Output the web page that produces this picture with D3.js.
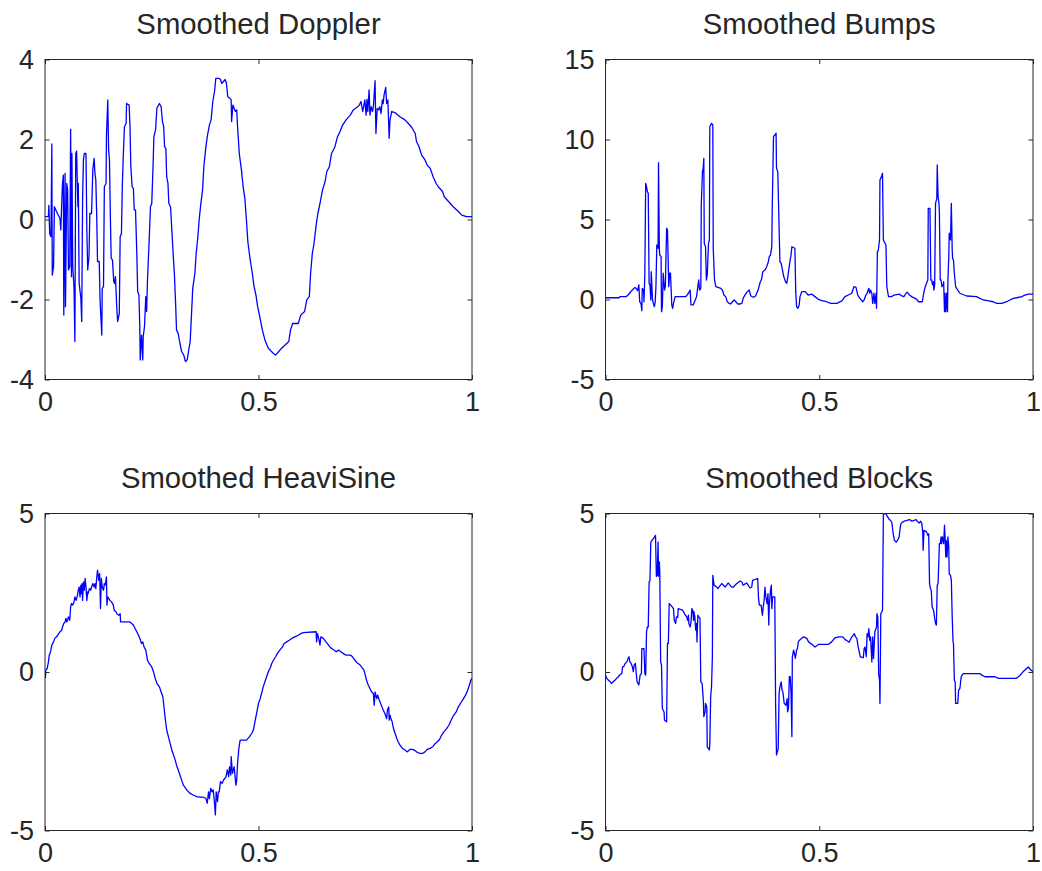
<!DOCTYPE html>
<html>
<head>
<meta charset="utf-8">
<script src="https://cdn.jsdelivr.net/npm/d3@7"></script>
<style>
  html, body { margin: 0; padding: 0; background: #ffffff; }
  svg { display: block; }
  text { font-family: "Liberation Sans", Arial, Helvetica, sans-serif; fill: #262626; }
</style>
</head>
<body>
<svg id="chart" width="1042" height="871"></svg>
<script>
// Four smoothed test signals on [0, 1]; each series is a list of [x, y] vertices.
const titles = ["Smoothed Doppler", "Smoothed Bumps", "Smoothed HeaviSine", "Smoothed Blocks"];
const xTicks = [0, 0.5, 1];
const xTickLabels = ["0", "0.5", "1"];

const dopplerTicks = [-4, -2, 0, 2, 4];
const bumpsTicks = [-5, 0, 5, 10, 15];
const heavisineTicks = [-5, 0, 5];
const blocksTicks = [-5, 0, 5];

const doppler = [
  [0,0.07],[0.008,0.07],[0.009,0.35],[0.011,-0.35],[0.014,-0.43],[0.016,1.89],[0.017,-1.39],[0.020,-1.18],[0.022,0.32],[0.029,0.15],
  [0.035,0.03],[0.037,-0.26],[0.040,0.65],[0.041,0.90],[0.043,1.11],[0.044,-2.39],[0.047,1.15],[0.048,-2.18],[0.051,0.90],[0.053,0.74],
  [0.055,-1.26],[0.058,-1.18],[0.060,2.25],[0.062,-1.43],[0.063,1.65],[0.065,-1.18],[0.068,-1.72],[0.070,-3.05],[0.072,1.65],[0.074,1.71],
  [0.077,0.32],[0.078,0.90],[0.080,-1.60],[0.084,-1.97],[0.086,-2.55],[0.088,0.49],[0.090,1.49],[0.092,1.65],[0.096,1.65],[0.098,-0.26],
  [0.100,-1.26],[0.103,-0.93],[0.105,0.15],[0.109,0.15],[0.112,1.24],[0.115,1.53],[0.117,1.15],[0.119,0.99],[0.121,0.15],[0.123,-1.05],
  [0.127,-1.05],[0.129,-2.01],[0.130,-2.26],[0.133,-2.89],[0.134,-1.72],[0.137,-1.68],[0.139,0.82],[0.143,0.90],[0.144,2.11],[0.147,2.99],
  [0.149,1.74],[0.151,1.49],[0.153,0.11],[0.155,-0.97],[0.158,-1.01],[0.161,-1.55],[0.163,-1.60],[0.165,-1.43],[0.168,-2.18],[0.170,-2.55],
  [0.174,-2.35],[0.176,-0.43],[0.179,-0.35],[0.181,0.82],[0.183,1.49],[0.186,2.32],[0.190,2.40],[0.191,2.90],[0.197,2.86],[0.199,2.36],
  [0.201,1.32],[0.204,0.82],[0.207,0.78],[0.209,0.24],[0.212,0.24],[0.215,-0.85],[0.217,-1.80],[0.220,-1.89],[0.222,-2.68],[0.223,-3.51],
  [0.226,-2.89],[0.229,-3.51],[0.230,-2.93],[0.233,-2.68],[0.236,-1.93],[0.238,-2.30],[0.240,-1.51],[0.244,-0.51],[0.247,0.32],[0.250,0.40],
  [0.253,1.32],[0.255,2.07],[0.259,2.24],[0.262,2.78],[0.268,2.90],[0.272,2.82],[0.275,2.45],[0.278,2.32],[0.280,1.82],[0.283,1.78],
  [0.285,1.07],[0.288,0.90],[0.290,0.40],[0.294,0.32],[0.297,-0.26],[0.301,-1.01],[0.303,-1.35],[0.306,-2.14],[0.308,-2.76],[0.312,-2.85],
  [0.316,-3.10],[0.320,-3.30],[0.325,-3.39],[0.329,-3.55],[0.333,-3.51],[0.336,-3.30],[0.340,-3.05],[0.343,-2.39],[0.346,-1.72],[0.351,-1.35],
  [0.354,-0.85],[0.358,-0.43],[0.361,-0.01],[0.365,0.40],[0.369,0.74],[0.372,1.32],[0.376,1.74],[0.380,2.07],[0.385,2.36],[0.389,2.49],
  [0.393,2.95],[0.397,3.20],[0.400,3.53],[0.407,3.53],[0.411,3.50],[0.414,3.40],[0.418,3.45],[0.422,3.50],[0.425,3.40],[0.428,3.07],
  [0.433,3.03],[0.436,2.99],[0.437,2.45],[0.440,2.86],[0.446,2.70],[0.449,2.74],[0.451,2.32],[0.455,1.65],[0.460,1.24],[0.464,0.82],
  [0.468,0.53],[0.472,-0.05],[0.475,-0.55],[0.480,-0.97],[0.485,-1.30],[0.489,-1.64],[0.494,-1.89],[0.498,-2.18],[0.503,-2.43],[0.509,-2.76],
  [0.515,-3.01],[0.523,-3.22],[0.535,-3.35],[0.540,-3.39],[0.554,-3.22],[0.571,-3.05],[0.575,-2.76],[0.580,-2.60],[0.593,-2.60],[0.599,-2.39],
  [0.608,-2.30],[0.613,-2.01],[0.619,-1.93],[0.622,-1.35],[0.626,-0.85],[0.630,-0.60],[0.635,-0.14],[0.639,0.15],[0.644,0.40],[0.650,0.74],
  [0.656,0.95],[0.660,1.20],[0.666,1.32],[0.671,1.65],[0.679,1.82],[0.685,2.07],[0.691,2.20],[0.697,2.36],[0.705,2.49],[0.715,2.61],
  [0.722,2.74],[0.732,2.82],[0.736,2.86],[0.740,2.95],[0.744,2.70],[0.749,2.99],[0.752,2.61],[0.754,3.00],[0.756,2.70],[0.759,3.24],
  [0.761,2.61],[0.764,2.82],[0.767,2.70],[0.769,2.82],[0.773,3.47],[0.775,2.15],[0.778,2.78],[0.781,2.74],[0.784,2.82],[0.787,2.65],
  [0.790,2.99],[0.792,2.90],[0.794,3.11],[0.798,3.30],[0.800,2.90],[0.803,2.99],[0.806,2.03],[0.808,2.49],[0.812,2.70],[0.820,2.67],
  [0.831,2.57],[0.843,2.49],[0.851,2.40],[0.859,2.30],[0.867,2.15],[0.870,1.95],[0.876,1.82],[0.882,1.61],[0.890,1.49],[0.895,1.36],
  [0.902,1.28],[0.909,1.07],[0.916,0.90],[0.921,0.82],[0.931,0.70],[0.935,0.57],[0.945,0.45],[0.956,0.32],[0.968,0.20],[0.976,0.11],
  [0.987,0.07],[1.000,0.07]
];

const bumps = [
  [0,0.11],[0.032,0.11],[0.034,0.18],[0.048,0.18],[0.053,0.28],[0.061,0.55],[0.069,0.76],[0.073,0.64],[0.075,0.55],[0.078,0.91],
  [0.080,-0.14],[0.083,-0.24],[0.085,-0.70],[0.086,0.70],[0.089,0.59],[0.090,-0.14],[0.092,1.53],[0.094,7.26],[0.096,7.05],[0.098,6.74],
  [0.100,6.64],[0.102,1.01],[0.104,0.91],[0.106,-0.03],[0.107,1.74],[0.110,-0.03],[0.112,-0.24],[0.114,-0.45],[0.116,-0.24],[0.118,0.80],
  [0.120,3.41],[0.123,3.20],[0.124,8.55],[0.126,3.09],[0.127,2.78],[0.130,2.68],[0.131,-0.76],[0.133,-0.45],[0.135,1.64],[0.138,0.59],
  [0.140,0.80],[0.143,4.45],[0.145,4.34],[0.148,0.80],[0.150,1.64],[0.152,1.64],[0.155,-0.34],[0.157,-0.55],[0.159,-0.24],[0.163,0.18],
  [0.188,0.18],[0.194,0.39],[0.198,0.59],[0.200,-0.34],[0.205,-0.34],[0.210,-0.03],[0.213,0.18],[0.216,0.80],[0.218,1.22],[0.220,0.59],
  [0.223,0.70],[0.224,5.91],[0.227,8.09],[0.228,7.99],[0.230,8.82],[0.231,3.51],[0.234,3.30],[0.236,1.22],[0.238,1.53],[0.241,3.51],
  [0.243,3.72],[0.244,10.80],[0.248,11.01],[0.251,10.91],[0.252,3.20],[0.255,1.22],[0.258,0.80],[0.270,0.70],[0.274,0.55],[0.277,0.28],
  [0.281,0.18],[0.285,-0.14],[0.289,-0.24],[0.293,-0.28],[0.297,-0.14],[0.301,-0.03],[0.305,-0.14],[0.309,-0.28],[0.315,-0.28],[0.319,-0.24],
  [0.322,0.07],[0.326,0.28],[0.330,0.43],[0.336,0.59],[0.340,0.22],[0.346,0.14],[0.351,0.22],[0.357,0.59],[0.361,1.01],[0.365,1.26],
  [0.368,1.74],[0.373,1.84],[0.377,2.05],[0.381,2.36],[0.383,2.68],[0.386,2.78],[0.389,3.30],[0.390,5.70],[0.393,10.18],[0.396,10.28],
  [0.399,10.39],[0.400,8.20],[0.403,7.99],[0.404,6.84],[0.406,4.55],[0.408,2.36],[0.411,2.26],[0.414,1.84],[0.417,1.43],[0.421,1.11],
  [0.424,1.01],[0.426,1.32],[0.428,1.74],[0.432,2.47],[0.434,2.78],[0.436,3.30],[0.443,3.20],[0.445,0.49],[0.447,-0.45],[0.450,-0.55],
  [0.453,-0.34],[0.455,0.18],[0.459,0.49],[0.467,0.49],[0.474,0.28],[0.482,0.34],[0.490,0.18],[0.498,0.01],[0.506,-0.07],[0.517,-0.14],
  [0.527,-0.24],[0.541,-0.24],[0.553,-0.09],[0.560,0.18],[0.568,0.28],[0.576,0.39],[0.581,0.80],[0.586,0.76],[0.590,0.28],[0.595,0.07],
  [0.602,-0.14],[0.605,-0.03],[0.609,0.28],[0.612,0.39],[0.616,0.70],[0.618,0.39],[0.620,0.59],[0.623,0.39],[0.625,-0.24],[0.628,0.39],
  [0.630,-0.24],[0.633,0.39],[0.634,-0.55],[0.636,2.99],[0.638,3.05],[0.641,3.72],[0.642,7.47],[0.646,7.72],[0.648,7.89],[0.650,3.72],
  [0.656,3.41],[0.658,0.80],[0.662,0.18],[0.669,0.18],[0.675,0.28],[0.687,0.34],[0.693,0.22],[0.698,0.18],[0.703,0.39],[0.706,0.45],
  [0.711,0.28],[0.716,0.18],[0.724,0.07],[0.728,0.01],[0.732,-0.14],[0.741,-0.14],[0.745,0.49],[0.748,0.80],[0.751,1.01],[0.754,1.22],
  [0.755,5.70],[0.759,5.70],[0.761,1.22],[0.763,1.22],[0.765,0.91],[0.767,1.11],[0.768,0.59],[0.770,0.91],[0.772,6.01],[0.775,6.32],
  [0.776,8.41],[0.778,6.43],[0.780,6.01],[0.781,5.49],[0.783,1.22],[0.785,1.22],[0.787,0.80],[0.790,0.91],[0.791,1.11],[0.793,-0.76],
  [0.794,0.39],[0.796,-0.76],[0.798,0.39],[0.800,-0.76],[0.801,1.22],[0.803,2.68],[0.804,4.14],[0.807,3.72],[0.809,6.01],[0.811,3.09],
  [0.812,2.57],[0.814,2.47],[0.816,1.64],[0.819,0.80],[0.824,0.59],[0.829,0.39],[0.845,0.22],[0.868,0.18],[0.876,0.07],[0.884,-0.03],
  [0.896,-0.09],[0.907,-0.14],[0.915,-0.24],[0.927,-0.24],[0.938,-0.14],[0.946,-0.03],[0.954,0.07],[0.962,0.11],[0.974,0.18],[0.981,0.28],
  [0.989,0.34],[1.000,0.34]
];

const heavisine = [
  [0.001,-0.20],[0.002,0.06],[0.005,0.11],[0.008,0.32],[0.010,0.53],[0.013,0.64],[0.016,0.85],[0.020,0.95],[0.023,1.06],[0.027,1.11],
  [0.031,1.19],[0.035,1.27],[0.039,1.32],[0.041,1.42],[0.044,1.53],[0.047,1.58],[0.049,1.69],[0.051,1.58],[0.053,1.65],[0.055,1.74],
  [0.058,1.63],[0.060,2.05],[0.062,2.16],[0.065,2.11],[0.068,2.21],[0.070,2.37],[0.073,2.26],[0.076,2.42],[0.078,2.58],[0.080,2.68],
  [0.082,2.37],[0.084,2.74],[0.085,2.47],[0.087,2.79],[0.088,2.26],[0.090,2.84],[0.092,2.58],[0.094,2.95],[0.096,2.68],[0.098,2.26],
  [0.100,2.53],[0.101,2.47],[0.104,2.63],[0.107,2.58],[0.109,2.68],[0.112,2.79],[0.115,2.68],[0.117,2.79],[0.119,2.63],[0.121,2.95],
  [0.123,3.21],[0.126,2.89],[0.128,3.10],[0.130,2.00],[0.132,2.95],[0.134,2.68],[0.137,2.58],[0.139,2.79],[0.141,2.74],[0.144,3.00],
  [0.145,2.11],[0.147,2.37],[0.149,2.32],[0.152,2.26],[0.156,2.21],[0.160,2.11],[0.162,1.95],[0.166,1.90],[0.169,1.82],[0.173,1.79],
  [0.176,1.84],[0.177,1.58],[0.199,1.58],[0.203,1.53],[0.207,1.48],[0.211,1.37],[0.215,1.27],[0.219,1.16],[0.222,1.06],[0.226,0.90],
  [0.229,0.95],[0.232,0.79],[0.236,0.69],[0.238,0.53],[0.240,0.37],[0.244,0.27],[0.250,0.16],[0.254,0.01],[0.258,-0.20],[0.262,-0.36],
  [0.268,-0.47],[0.272,-0.63],[0.276,-0.78],[0.279,-1.15],[0.282,-1.52],[0.285,-1.83],[0.289,-2.04],[0.293,-2.25],[0.297,-2.46],[0.301,-2.62],
  [0.305,-2.78],[0.308,-2.94],[0.312,-3.09],[0.316,-3.25],[0.320,-3.41],[0.324,-3.57],[0.328,-3.64],[0.332,-3.72],[0.336,-3.78],[0.340,-3.83],
  [0.347,-3.88],[0.355,-3.93],[0.363,-3.95],[0.371,-3.95],[0.377,-3.99],[0.380,-4.14],[0.383,-3.78],[0.385,-3.99],[0.388,-3.67],[0.391,-3.78],
  [0.394,-3.72],[0.397,-4.14],[0.399,-4.51],[0.401,-3.78],[0.404,-4.09],[0.406,-3.78],[0.408,-3.78],[0.411,-3.46],[0.415,-3.51],[0.418,-3.41],
  [0.421,-3.36],[0.424,-3.30],[0.427,-3.09],[0.430,-3.30],[0.432,-2.99],[0.435,-3.25],[0.436,-2.67],[0.439,-3.20],[0.441,-3.09],[0.443,-2.99],
  [0.447,-3.57],[0.449,-3.41],[0.451,-2.88],[0.454,-2.41],[0.457,-2.15],[0.472,-2.15],[0.479,-2.04],[0.484,-1.94],[0.488,-1.83],[0.491,-1.62],
  [0.494,-1.41],[0.497,-1.20],[0.500,-0.99],[0.504,-0.84],[0.508,-0.63],[0.511,-0.47],[0.515,-0.31],[0.519,-0.15],[0.523,0.01],[0.527,0.11],
  [0.531,0.27],[0.535,0.37],[0.540,0.48],[0.544,0.58],[0.550,0.69],[0.556,0.79],[0.560,0.90],[0.566,0.95],[0.572,1.00],[0.578,1.06],
  [0.585,1.11],[0.593,1.16],[0.599,1.21],[0.605,1.24],[0.635,1.27],[0.636,0.95],[0.638,1.21],[0.641,1.06],[0.644,0.85],[0.646,1.11],
  [0.652,1.06],[0.658,0.95],[0.664,0.85],[0.669,0.76],[0.675,0.71],[0.682,0.64],[0.687,0.69],[0.693,0.64],[0.699,0.58],[0.705,0.53],
  [0.716,0.53],[0.720,0.48],[0.726,0.37],[0.731,0.29],[0.738,0.22],[0.743,0.13],[0.747,0.06],[0.750,-0.10],[0.753,-0.26],[0.757,-0.41],
  [0.761,-0.52],[0.765,-0.63],[0.769,-0.68],[0.771,-1.05],[0.773,-0.63],[0.777,-0.84],[0.779,-0.73],[0.783,-0.89],[0.786,-0.99],[0.789,-1.10],
  [0.792,-1.20],[0.796,-1.31],[0.800,-1.47],[0.802,-1.20],[0.805,-1.10],[0.806,-1.52],[0.808,-1.36],[0.810,-1.47],[0.813,-1.57],[0.816,-1.78],
  [0.820,-1.94],[0.824,-2.10],[0.827,-2.20],[0.831,-2.30],[0.837,-2.41],[0.843,-2.46],[0.848,-2.52],[0.855,-2.44],[0.861,-2.44],[0.867,-2.48],
  [0.870,-2.52],[0.878,-2.57],[0.884,-2.57],[0.890,-2.52],[0.895,-2.44],[0.902,-2.41],[0.908,-2.36],[0.913,-2.27],[0.919,-2.20],[0.924,-2.13],
  [0.929,-1.99],[0.934,-1.89],[0.941,-1.78],[0.946,-1.68],[0.951,-1.52],[0.956,-1.39],[0.963,-1.26],[0.968,-1.10],[0.974,-0.97],[0.980,-0.84],
  [0.985,-0.73],[0.990,-0.57],[0.994,-0.41],[0.997,-0.26],[1.000,-0.20]
];

const blocks = [
  [0,-0.10],[0.003,-0.20],[0.007,-0.26],[0.011,-0.31],[0.014,-0.36],[0.018,-0.31],[0.022,-0.26],[0.026,-0.20],[0.030,-0.15],[0.034,-0.08],
  [0.038,-0.05],[0.040,0.16],[0.043,0.18],[0.046,0.27],[0.050,0.32],[0.053,0.43],[0.055,0.48],[0.057,0.32],[0.060,0.27],[0.063,0.16],
  [0.065,0.01],[0.067,0.22],[0.070,0.27],[0.072,-0.05],[0.074,-0.31],[0.078,-0.41],[0.081,-0.10],[0.084,-0.05],[0.085,0.74],[0.090,0.74],
  [0.092,-0.05],[0.094,-0.10],[0.096,1.27],[0.098,1.42],[0.100,1.42],[0.102,2.84],[0.104,2.89],[0.106,4.10],[0.112,4.21],[0.117,4.31],
  [0.119,3.02],[0.121,3.05],[0.123,4.10],[0.124,3.02],[0.126,3.47],[0.127,3.16],[0.129,0.32],[0.131,0.22],[0.133,-1.15],[0.137,-1.26],
  [0.138,-1.52],[0.143,-1.57],[0.145,0.90],[0.147,0.90],[0.149,2.16],[0.155,2.07],[0.159,2.00],[0.161,1.63],[0.164,1.53],[0.166,1.74],
  [0.169,1.72],[0.170,2.00],[0.180,1.95],[0.187,1.79],[0.190,1.74],[0.192,1.63],[0.194,1.79],[0.195,1.53],[0.198,1.42],[0.200,1.58],
  [0.202,2.00],[0.204,1.95],[0.206,1.63],[0.207,1.90],[0.209,1.74],[0.211,1.32],[0.213,1.53],[0.214,0.95],[0.216,1.79],[0.221,1.69],
  [0.223,-0.31],[0.226,-0.36],[0.229,-0.94],[0.230,-1.41],[0.233,-1.26],[0.234,-0.99],[0.237,-1.10],[0.238,-2.36],[0.243,-2.46],[0.244,-2.25],
  [0.246,-0.78],[0.248,-0.47],[0.250,0.48],[0.251,3.05],[0.254,2.74],[0.260,2.68],[0.263,2.63],[0.269,2.74],[0.272,2.79],[0.280,2.68],
  [0.287,2.81],[0.295,2.68],[0.299,2.68],[0.307,2.79],[0.315,2.87],[0.319,2.84],[0.322,2.74],[0.330,2.81],[0.338,2.65],[0.342,2.68],
  [0.344,2.89],[0.356,2.95],[0.358,2.32],[0.360,2.11],[0.364,2.11],[0.367,1.79],[0.369,2.05],[0.371,2.26],[0.373,2.68],[0.375,2.37],
  [0.378,2.16],[0.380,2.47],[0.382,1.48],[0.383,2.11],[0.386,2.58],[0.388,2.74],[0.389,2.00],[0.391,2.37],[0.396,2.37],[0.398,-1.10],
  [0.400,-2.62],[0.404,-2.41],[0.406,-0.68],[0.408,-0.47],[0.411,-0.31],[0.413,-0.57],[0.415,-0.63],[0.418,-0.99],[0.422,-1.05],[0.425,-0.84],
  [0.426,-1.26],[0.428,-1.15],[0.430,-0.15],[0.432,-0.15],[0.434,-0.63],[0.436,-2.04],[0.437,0.48],[0.440,0.69],[0.442,0.58],[0.444,0.43],
  [0.447,0.69],[0.449,0.74],[0.451,0.95],[0.455,1.02],[0.463,1.11],[0.471,1.06],[0.475,0.95],[0.482,0.88],[0.490,0.79],[0.498,0.87],
  [0.521,0.87],[0.529,0.95],[0.537,1.08],[0.545,1.11],[0.555,1.11],[0.560,1.03],[0.566,0.98],[0.570,0.94],[0.574,1.06],[0.578,1.13],
  [0.582,1.21],[0.585,1.11],[0.588,1.06],[0.591,0.79],[0.593,0.67],[0.596,0.48],[0.603,0.45],[0.605,0.74],[0.607,0.79],[0.610,0.48],
  [0.612,1.21],[0.614,1.11],[0.616,1.37],[0.618,1.00],[0.620,1.11],[0.623,0.32],[0.625,1.11],[0.627,0.43],[0.630,1.27],[0.634,1.42],
  [0.635,1.84],[0.637,1.74],[0.639,-0.05],[0.641,-0.26],[0.642,-0.99],[0.644,1.84],[0.648,1.95],[0.650,4.99],[0.656,4.99],[0.660,4.89],
  [0.664,4.81],[0.667,4.78],[0.670,4.70],[0.673,4.36],[0.676,4.15],[0.680,4.10],[0.683,4.15],[0.687,4.26],[0.689,4.52],[0.691,4.68],
  [0.695,4.73],[0.699,4.76],[0.705,4.78],[0.711,4.81],[0.717,4.76],[0.722,4.78],[0.726,4.81],[0.731,4.73],[0.734,4.70],[0.737,4.76],
  [0.740,4.68],[0.742,4.42],[0.743,3.84],[0.745,4.47],[0.751,4.42],[0.754,4.31],[0.756,4.36],[0.758,2.79],[0.760,2.63],[0.762,2.58],
  [0.764,2.05],[0.766,2.00],[0.768,1.90],[0.770,1.69],[0.772,1.53],[0.774,1.48],[0.776,2.74],[0.778,2.79],[0.781,4.05],[0.783,4.05],
  [0.785,4.26],[0.786,4.05],[0.788,4.26],[0.791,4.05],[0.793,4.63],[0.794,4.36],[0.796,3.63],[0.797,4.15],[0.799,3.63],[0.801,4.26],
  [0.803,3.94],[0.804,3.10],[0.807,3.05],[0.809,2.89],[0.811,1.74],[0.813,0.95],[0.814,0.90],[0.816,-0.26],[0.818,-0.31],[0.819,-0.99],
  [0.824,-0.99],[0.826,-0.57],[0.829,-0.52],[0.832,-0.15],[0.834,-0.10],[0.837,-0.05],[0.876,-0.05],[0.880,-0.10],[0.888,-0.15],[0.911,-0.15],
  [0.919,-0.20],[0.960,-0.20],[0.966,-0.15],[0.970,-0.10],[0.973,-0.05],[0.977,0.01],[0.981,0.06],[0.985,0.11],[0.989,0.16],[0.992,0.11],
  [0.995,0.06],[0.998,0.03],[1.000,0.01]
];

// Panel grid (2 x 2) in pixels.
const cols = [{ left: 45, width: 427 }, { left: 605.5, width: 427.5 }];
const rows = [{ top: 59.5, height: 320 }, { top: 513.5, height: 317 }];

const panels = [
  { title: titles[0], data: doppler, yDomain: [-4, 4], yTicks: dopplerTicks, col: 0, row: 0 },
  { title: titles[1], data: bumps, yDomain: [-5, 15], yTicks: bumpsTicks, col: 1, row: 0 },
  { title: titles[2], data: heavisine, yDomain: [-5, 5], yTicks: heavisineTicks, col: 0, row: 1 },
  { title: titles[3], data: blocks, yDomain: [-5, 5], yTicks: blocksTicks, col: 1, row: 1 }
];

const AXIS_COLOR = "#262626";
const LINE_COLOR = "#0000ff";
const TICK_LEN = 4.5;
const TICK_FONT = 27;
const TITLE_FONT = 29.3;

// plain hyphen-minus for negative tick labels
const tickFmt = d => String(d);

const svg = d3.select("#chart");

panels.forEach((p, i) => {
  const c = cols[p.col], r = rows[p.row];
  const w = c.width, h = r.height;
  const x = d3.scaleLinear().domain([0, 1]).range([0, w]);
  const y = d3.scaleLinear().domain(p.yDomain).range([h, 0]);

  const g = svg.append("g").attr("transform", `translate(${c.left},${r.top})`);

  g.append("clipPath").attr("id", `clip-${i}`)
    .append("rect").attr("width", w).attr("height", h);

  // signal
  g.append("path")
    .datum(p.data)
    .attr("clip-path", `url(#clip-${i})`)
    .attr("fill", "none")
    .attr("stroke", LINE_COLOR)
    .attr("stroke-width", 1.3)
    .attr("stroke-linejoin", "round")
    .attr("d", d3.line().x(d => x(d[0])).y(d => y(d[1])));

  // axes with inward ticks on all four sides
  const styleAxis = sel => {
    sel.select(".domain").remove();
    sel.selectAll(".tick line").attr("stroke", AXIS_COLOR).attr("stroke-width", 1);
    sel.selectAll(".tick text")
      .attr("fill", AXIS_COLOR)
      .style("font-size", TICK_FONT + "px")
      .style("font-family", '"Liberation Sans", Arial, sans-serif');
  };

  g.append("g").attr("transform", `translate(0,${h})`)
    .call(d3.axisBottom(x).tickValues(xTicks).tickFormat((d, k) => xTickLabels[k])
      .tickSizeInner(-TICK_LEN).tickSizeOuter(0).tickPadding(12.5))
    .call(styleAxis);

  g.append("g")
    .call(d3.axisTop(x).tickValues(xTicks).tickFormat("")
      .tickSizeInner(-TICK_LEN).tickSizeOuter(0))
    .call(styleAxis);

  g.append("g")
    .call(d3.axisLeft(y).tickValues(p.yTicks).tickFormat(tickFmt)
      .tickSizeInner(-TICK_LEN).tickSizeOuter(0).tickPadding(11))
    .call(styleAxis);

  g.append("g").attr("transform", `translate(${w},0)`)
    .call(d3.axisRight(y).tickValues(p.yTicks).tickFormat("")
      .tickSizeInner(-TICK_LEN).tickSizeOuter(0))
    .call(styleAxis);

  // box
  g.append("rect")
    .attr("width", w).attr("height", h)
    .attr("fill", "none")
    .attr("stroke", AXIS_COLOR)
    .attr("stroke-width", 1);

  // title
  g.append("text")
    .attr("x", w / 2)
    .attr("y", -26)
    .attr("text-anchor", "middle")
    .style("font-size", TITLE_FONT + "px")
    .attr("fill", AXIS_COLOR)
    .text(p.title);
});
</script>
</body>
</html>
